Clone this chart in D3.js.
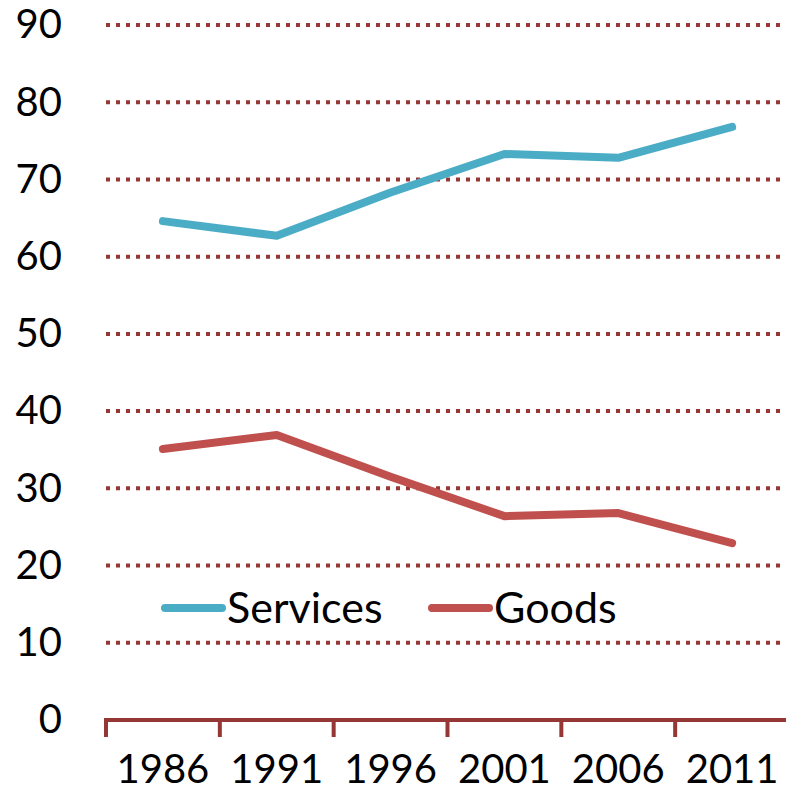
<!DOCTYPE html>
<html>
<head>
<meta charset="utf-8">
<script src="https://cdn.jsdelivr.net/npm/d3@7"></script>
<style>
  html, body { margin: 0; padding: 0; background: #fff; }
  svg text { font-family: Lato, "Open Sans", sans-serif; fill: #000; }
</style>
</head>
<body>
<div id="chart"></div>
<script>
(function(){
  'use strict';

  // data
  var years = ["1986", "1991", "1996", "2001", "2006", "2011"];
  var services = [64.6, 62.7, 68.3, 73.3, 72.8, 76.8];
  var goods = [35.1, 36.9, 31.5, 26.4, 26.8, 22.9];
  var yTicks = [0, 10, 20, 30, 40, 50, 60, 70, 80, 90];
  var seriesNames = ["Services", "Goods"];
  var seriesColors = ["#4bacc6", "#c0504d"];

  var width = 786, height = 787;
  var gridColor = "#953735";

  var svg = d3.select("#chart")
              .append("svg")
              .attr("width", width)
              .attr("height", height);

  var x = d3.scaleBand().domain(years).range([106, 789]);
  var y = d3.scaleLinear().domain([0, 90]).range([720, 25]);

  // dotted gridlines (not at zero, the axis sits there)
  svg.append("g")
    .selectAll("line")
    .data(yTicks.filter(function(d){ return d > 0; }))
    .join("line")
    .attr("x1", 106)
    .attr("x2", width)
    .attr("y1", function(d){ return y(d); })
    .attr("y2", function(d){ return y(d); })
    .attr("stroke", gridColor)
    .attr("stroke-width", 4)
    .attr("stroke-dasharray", "4,6");

  // y labels
  var yAxis = svg.append("g")
    .attr("transform", "translate(106,0)")
    .call(d3.axisLeft(y).tickValues(yTicks).tickSize(0).tickPadding(44));
  yAxis.select(".domain").remove();
  yAxis.selectAll("text")
    .attr("font-size", 40)
    .attr("font-family", "Lato, sans-serif");

  // x labels
  var xAxis = svg.append("g")
    .attr("transform", "translate(0,720)")
    .call(d3.axisBottom(x).tickSize(0).tickPadding(35));
  xAxis.select(".domain").remove();
  xAxis.selectAll("text")
    .attr("font-size", 40)
    .attr("font-family", "Lato, sans-serif");

  // axis line and tick marks between categories
  var tickPos = years.map(function(d){ return x(d); }).concat([x.range()[1]]);
  var axisG = svg.append("g");
  axisG.append("line")
    .attr("x1", x.range()[0])
    .attr("x2", x.range()[1])
    .attr("y1", y(0))
    .attr("y2", y(0))
    .attr("stroke", gridColor)
    .attr("stroke-width", 4);
  axisG.selectAll("line.tick")
    .data(tickPos)
    .join("line")
    .attr("class", "tick")
    .attr("x1", function(d){ return d; })
    .attr("x2", function(d){ return d; })
    .attr("y1", y(0) - 2)
    .attr("y2", y(0) + 17)
    .attr("stroke", gridColor)
    .attr("stroke-width", 4);

  // the two lines
  var line = d3.line()
    .x(function(d, i){ return x(years[i]) + x.bandwidth() / 2; })
    .y(function(d){ return y(d); });

  var series = [services, goods];
  svg.append("g")
    .selectAll("path")
    .data(series)
    .join("path")
    .attr("d", line)
    .attr("fill", "none")
    .attr("stroke", function(d, i){ return seriesColors[i]; })
    .attr("stroke-width", 8)
    .attr("stroke-linecap", "round")
    .attr("stroke-linejoin", "round");

  // legend
  var legendX = [165, 432];
  var legend = svg.append("g")
    .selectAll("g")
    .data(seriesNames)
    .join("g")
    .attr("transform", function(d, i){ return "translate(" + legendX[i] + ",608)"; });
  legend.append("line")
    .attr("x1", 0)
    .attr("x2", 57)
    .attr("stroke", function(d, i){ return seriesColors[i]; })
    .attr("stroke-width", 8)
    .attr("stroke-linecap", "round");
  legend.append("text")
    .attr("x", 62)
    .attr("y", 15)
    .attr("font-size", 43)
    .text(function(d){ return d; });

})();
</script>
</body>
</html>
